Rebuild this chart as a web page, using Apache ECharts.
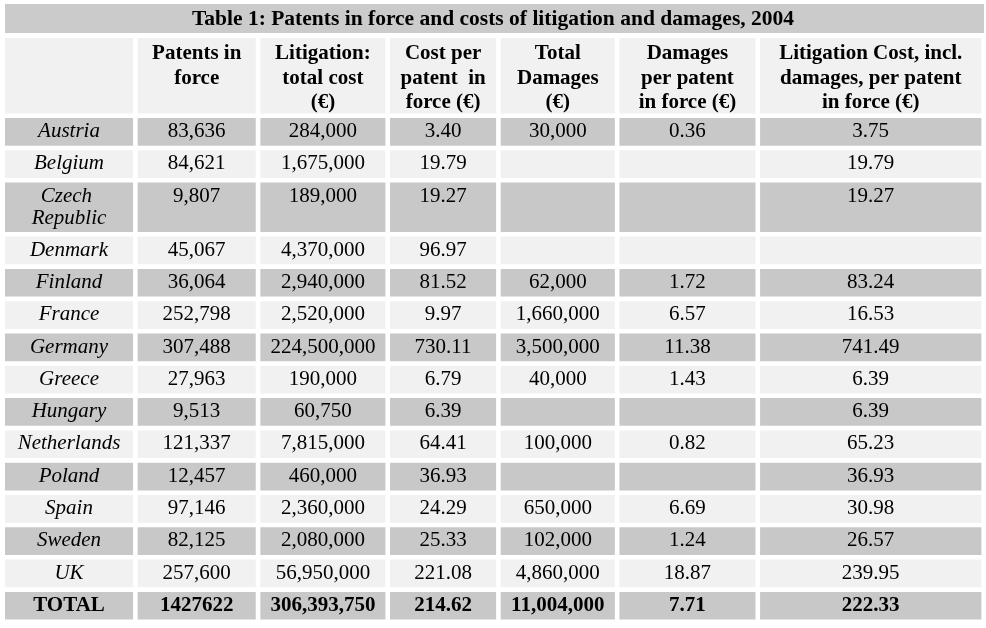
<!DOCTYPE html>
<html>
<head>
<meta charset="utf-8">
<script src="https://cdn.jsdelivr.net/npm/echarts@6/dist/echarts.min.js"></script>
<style>html,body{margin:0;padding:0;background:#fff}#c{width:986px;height:628px}</style>
</head>
<body>
<div id="c"></div>
<script>
// ---- data ----
const tableTitle = 'Table 1: Patents in force and costs of litigation and damages, 2004';
const columnHeads = ['', 'Patents in\nforce', 'Litigation:\ntotal cost\n(€)', 'Cost per\npatent  in\nforce (€)', 'Total\nDamages\n(€)', 'Damages\nper patent\nin force (€)', 'Litigation Cost, incl.\ndamages, per patent\nin force (€)'];
const countries = ['Austria', 'Belgium', 'Czech Republic', 'Denmark', 'Finland', 'France', 'Germany', 'Greece', 'Hungary', 'Netherlands', 'Poland', 'Spain', 'Sweden', 'UK'];
const patentsInForce = [83636, 84621, 9807, 45067, 36064, 252798, 307488, 27963, 9513, 121337, 12457, 97146, 82125, 257600];
const litigationCost = [284000, 1675000, 189000, 4370000, 2940000, 2520000, 224500000, 190000, 60750, 7815000, 460000, 2360000, 2080000, 56950000];
const costPerPatent = [3.40, 19.79, 19.27, 96.97, 81.52, 9.97, 730.11, 6.79, 6.39, 64.41, 36.93, 24.29, 25.33, 221.08];
const totalDamages = [30000, null, null, null, 62000, 1660000, 3500000, 40000, null, 100000, null, 650000, 102000, 4860000];
const damagesPerPatent = [0.36, null, null, null, 1.72, 6.57, 11.38, 1.43, null, 0.82, null, 6.69, 1.24, 18.87];
const costInclDamagesPerPatent = [3.75, 19.79, 19.27, null, 83.24, 16.53, 741.49, 6.39, 6.39, 65.23, 36.93, 30.98, 26.57, 239.95];
const totalLabel = 'TOTAL';
const totalRow = [1427622, 306393750, 214.62, 11004000, 7.71, 222.33];

// ---- layout ----
const colW = [133, 123, 130, 111, 119, 141, 226.5];
const GAP = 4.6;
const HEADER_H = 80, ROW_H = 32.3, TALL_ROW_H = 54;
const tallRows = {'Czech Republic': true};

const FONT = 'Liberation Serif';
const GRAY = '#c8c8c8', LIGHT = '#f1f1f1';

function fmtInt(v, group) {
  if (!group) return String(v);
  return String(v).replace(/\B(?=(\d{3})+(?!\d))/g, ',');
}
function fmt(v, col, group) {
  if (v === null || v === undefined) return '';
  if (col === 1 || col === 2 || col === 4) return fmtInt(v, group);
  return v.toFixed(2);
}

const colArrays = [patentsInForce, litigationCost, costPerPatent, totalDamages, damagesPerPatent, costInclDamagesPerPatent];

const rowH = [HEADER_H];
countries.forEach(c => rowH.push(tallRows[c] ? TALL_ROW_H : ROW_H));
rowH.push(ROW_H);
const yStart = []; let acc = 0; rowH.forEach(h => { yStart.push(acc); acc += h; });
const totalH = acc;
const xStart = []; acc = 0; colW.forEach(w => { xStart.push(acc); acc += w; });
const totalW = acc;

const cells = [];
columnHeads.forEach((t, c) => cells.push({c, r: 0, text: t, kind: 'head', fill: LIGHT}));
countries.forEach((name, i) => {
  const r = i + 1;
  const fill = i % 2 === 0 ? GRAY : LIGHT;
  cells.push({c: 0, r, text: name, kind: 'name', fill});
  colArrays.forEach((arr, k) => cells.push({c: k + 1, r, text: fmt(arr[i], k + 1, true), kind: 'num', fill}));
});
const tr = countries.length + 1;
cells.push({c: 0, r: tr, text: totalLabel, kind: 'total', fill: GRAY});
totalRow.forEach((v, k) => cells.push({c: k + 1, r: tr, text: fmt(v, k + 1, k !== 0), kind: 'total', fill: GRAY}));

const styles = {
  head: {fontSize: 21, fontWeight: 'bold', fontStyle: 'normal', lineHeight: 24.5, pad: 3.5},
  name: {fontSize: 21, fontWeight: 'normal', fontStyle: 'italic', lineHeight: 22, pad: 2.5},
  num: {fontSize: 21, fontWeight: 'normal', fontStyle: 'normal', lineHeight: 22, pad: 2.5},
  total: {fontSize: 21, fontWeight: 'bold', fontStyle: 'normal', lineHeight: 22, pad: 2.5}
};

const chart = echarts.init(document.getElementById('c'), null, {renderer: 'canvas'});
chart.setOption({
  backgroundColor: '#ffffff',
  animation: false,
  title: {
    text: tableTitle, left: 'center', top: 8, padding: 0,
    textStyle: {fontFamily: FONT, fontWeight: 'bold', fontSize: 21.5, color: '#000'}
  },
  graphic: [{
    type: 'rect', left: 5, top: 4, z: -10,
    shape: {width: 979, height: 29}, style: {fill: '#cbcbcb'}
  }],
  grid: {left: 5, top: 38, width: totalW, height: totalH},
  xAxis: {type: 'value', min: 0, max: totalW, show: false},
  yAxis: {type: 'value', min: 0, max: totalH, inverse: true, show: false},
  series: [{
    type: 'custom',
    coordinateSystem: 'cartesian2d',
    data: cells.map(d => [d.c, d.r]),
    encode: {x: 0, y: 1},
    clip: false,
    renderItem: function (params, api) {
      const d = cells[params.dataIndex];
      const p0 = api.coord([xStart[d.c], yStart[d.r]]);
      const p1 = api.coord([xStart[d.c] + colW[d.c], yStart[d.r] + rowH[d.r]]);
      const w = p1[0] - p0[0] - GAP;
      const h = p1[1] - p0[1] - GAP;
      const st = styles[d.kind];
      return {
        type: 'group',
        children: [
          {type: 'rect', shape: {x: p0[0], y: p0[1], width: w, height: h}, style: {fill: d.fill}},
          {type: 'text', style: {
            text: d.text, x: p0[0] + w / 2, y: p0[1] + st.pad,
            align: 'center', verticalAlign: 'top',
            fontFamily: FONT, fontSize: st.fontSize, fontWeight: st.fontWeight, fontStyle: st.fontStyle,
            lineHeight: st.lineHeight, width: w - 6, overflow: 'break', fill: '#000'
          }}
        ]
      };
    }
  }]
});
</script>
</body>
</html>
